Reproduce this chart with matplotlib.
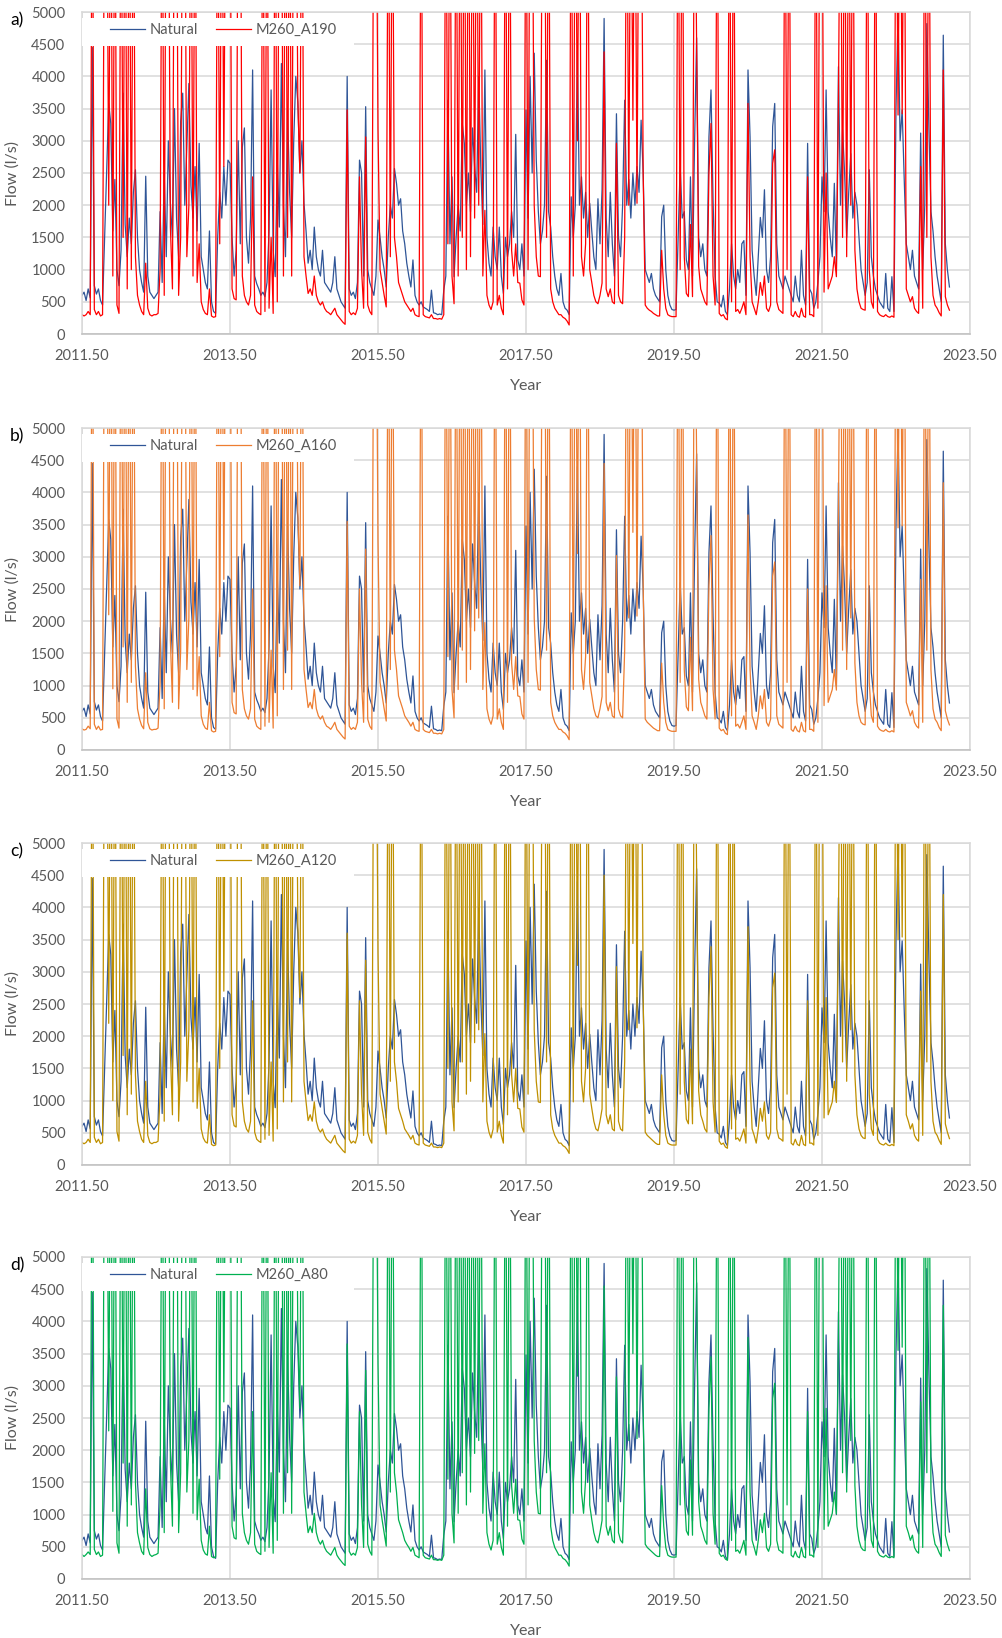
import numpy as np
import matplotlib.pyplot as plt
from matplotlib.patches import Rectangle

plt.rcParams['font.family'] = ['Lato', 'DejaVu Sans']

# Flow series, three values per month (about every 10 days), from July 2011.
# One row per hydrological year (July -> June). Values above 5000 are clipped by the axis.
natural = [
    # 2011/12
    600, 650, 520, 700, 560, 4450, 750, 620, 700, 520, 450, 1500, 2600, 3580, 3270, 1600, 2400, 1000,
    750, 1300, 3740, 1700, 1200, 1800, 1400, 2200, 2550, 1500, 1000, 800, 650, 2450, 900, 650, 600, 550,
    # 2012/13
    600, 650, 1900, 800, 2500, 1200, 3000, 2030, 1500, 3500, 1800, 1200, 3300, 3740, 2000, 2900, 3890, 2300,
    1800, 2600, 1600, 2960, 1200, 1000, 800, 700, 1600, 500, 350, 320, 1500, 2200, 1800, 2600, 2000, 2700,
    # 2013/14
    2650, 1500, 900, 1300, 3000, 1400, 2900, 3200, 1500, 1100, 1800, 4100, 900, 780, 700, 600, 650, 580,
    800, 1600, 3790, 1300, 890, 2700, 1660, 4200, 2000, 1200, 3480, 2200, 1500, 3000, 4000, 3600, 2500, 3000,
    # 2014/15
    2030, 1600, 1100, 1300, 1000, 1660, 1200, 1000, 900, 1300, 800, 750, 700, 650, 800, 1200, 700, 600,
    500, 450, 400, 4000, 700, 600, 650, 550, 800, 2700, 2500, 900, 3530, 1000, 800, 700, 600, 900,
    # 2015/16
    1770, 1500, 1200, 1000, 730, 1500, 2000, 1800, 2570, 2340, 2000, 2100, 1600, 1400, 1100, 900, 730, 1150,
    600, 500, 450, 500, 420, 400, 380, 350, 680, 330, 320, 300, 310, 300, 680, 900, 3630, 1400,
    # 2016/17
    2440, 890, 1500, 2000, 1600, 3270, 2960, 2000, 2500, 1900, 3200, 2600, 2200, 4000, 2600, 1700, 4100, 1500,
    1100, 900, 1660, 1200, 1000, 1660, 900, 630, 1500, 1200, 1400, 1900, 1500, 3100, 1150, 1000, 1400, 900,
    # 2017/18
    3480, 1800, 4000, 2500, 4360, 2700, 1900, 1400, 1600, 2000, 4250, 1900, 1660, 1200, 900, 700, 600, 940,
    500, 400, 370, 300, 2130, 1500, 2000, 4400, 2000, 2440, 1800, 2200, 1500, 2030, 1600, 1200, 1000, 2100,
    # 2018/19
    1400, 2240, 4900, 1800, 1200, 2200, 1400, 900, 3420, 1500, 1200, 2000, 3630, 2000, 2400, 1800, 2500, 2000,
    2600, 2200, 3320, 2500, 1000, 900, 800, 940, 700, 600, 550, 500, 1820, 2000, 1000, 600, 450, 380,
    # 2019/20
    370, 380, 1500, 2600, 1800, 1900, 1150, 1000, 2440, 900, 2960, 4600, 1500, 1200, 1400, 1000, 900, 3060,
    3790, 2080, 900, 500, 480, 420, 600, 350, 300, 700, 1400, 900, 700, 1000, 800, 1400, 1450, 600,
    # 2020/21
    4100, 3060, 1300, 900, 600, 1200, 1810, 1500, 2240, 1000, 800, 1200, 3220, 3580, 1400, 900, 800, 700,
    900, 800, 700, 600, 500, 900, 600, 500, 1300, 600, 450, 2960, 700, 630, 400, 500, 800, 1200,
    # 2021/22
    2440, 1900, 3790, 1900, 1500, 1200, 2340, 1000, 4150, 2000, 3170, 2500, 1500, 2200, 2800, 1800, 2200, 2000,
    1500, 1000, 800, 600, 800, 2550, 1200, 900, 700, 600, 500, 450, 400, 940, 400, 350, 890, 350,
    # 2022/23 (to March)
    3500, 4980, 3000, 3480, 2400, 1400, 1200, 1000, 1300, 900, 800, 700, 3120, 1000, 2000, 4820, 3200, 1900,
    1600, 1200, 900, 700, 500, 4640, 1400, 1000, 730,
]

m260_a190 = [
    300, 280, 300, 350, 300, 8000, 380, 300, 350, 280, 300, 8000, 8000, 2000, 8000, 900, 8000, 450,
    320, 8000, 1500, 8000, 700, 8000, 1000, 8000, 1200, 600, 450, 350, 300, 1100, 400, 300, 280, 300,
    300, 320, 1000, 8000, 600, 8000, 8000, 1660, 700, 8000, 8000, 600, 1500, 8000, 8000, 1200, 2000, 8000,
    900, 8000, 800, 1400, 500, 380, 320, 300, 700, 280, 260, 270, 8000, 1400, 8000, 2600, 8000, 8000,
    8000, 700, 550, 530, 8000, 8000, 900, 600, 500, 450, 600, 2440, 450, 350, 320, 300, 8000, 350,
    8000, 400, 1500, 320, 8000, 500, 8000, 8000, 900, 8000, 1500, 8000, 900, 8000, 8000, 3630, 2500, 8000,
    1200, 900, 630, 700, 600, 900, 600, 500, 450, 500, 400, 350, 330, 300, 350, 400, 300, 260,
    220, 180, 150, 3480, 350, 300, 330, 300, 400, 2440, 1000, 400, 3060, 450, 350, 300, 8000, 8000,
    3170, 1000, 800, 600, 420, 8000, 1200, 8000, 1500, 1200, 800, 700, 600, 500, 450, 400, 350, 400,
    300, 280, 270, 8000, 300, 270, 260, 250, 300, 240, 240, 230, 240, 230, 300, 8000, 1400, 8000,
    900, 470, 8000, 900, 8000, 1500, 8000, 1000, 8000, 1200, 8000, 1800, 8000, 2000, 8000, 900, 1920, 600,
    450, 380, 500, 8000, 450, 600, 400, 300, 8000, 700, 8000, 1300, 900, 1400, 800, 790, 530, 450,
    8000, 1000, 8000, 8000, 2000, 1200, 900, 890, 8000, 8000, 1500, 8000, 700, 500, 400, 350, 300, 300,
    260, 240, 200, 140, 8000, 900, 8000, 3000, 8000, 1200, 900, 1400, 8000, 1000, 800, 600, 500, 470,
    600, 790, 4380, 700, 580, 700, 500, 470, 2960, 600, 500, 470, 1500, 8000, 2000, 8000, 3320, 8000,
    2030, 8000, 8000, 2500, 450, 400, 370, 350, 320, 300, 280, 280, 1300, 700, 400, 300, 280, 270,
    270, 270, 8000, 1000, 8000, 1200, 630, 580, 1700, 580, 8000, 4500, 1050, 700, 600, 500, 450, 2500,
    3270, 900, 450, 8000, 320, 280, 300, 240, 220, 8000, 500, 8000, 350, 380, 320, 400, 500, 300,
    3580, 1200, 500, 400, 300, 500, 800, 600, 900, 400, 350, 450, 2650, 2860, 500, 380, 350, 320,
    8000, 1000, 8000, 300, 270, 350, 280, 260, 400, 280, 260, 2440, 300, 300, 270, 8000, 400, 8000,
    8000, 650, 2500, 700, 800, 900, 1200, 890, 3630, 8000, 1500, 8000, 1200, 8000, 2000, 8000, 1300, 700,
    500, 400, 380, 370, 8000, 1000, 500, 400, 8000, 350, 300, 280, 270, 300, 270, 260, 280, 260,
    8000, 3400, 8000, 3420, 8000, 700, 600, 500, 580, 400, 350, 320, 2600, 400, 8000, 1500, 8000, 1200,
    600, 450, 400, 330, 280, 4100, 580, 450, 370,
]

m260_a160 = [
    330, 310, 320, 370, 330, 8000, 400, 320, 370, 310, 320, 8000, 8000, 2100, 8000, 950, 8000, 480,
    340, 8000, 1600, 8000, 740, 8000, 1050, 8000, 1300, 640, 480, 380, 330, 1200, 430, 330, 310, 320,
    320, 340, 1050, 8000, 640, 8000, 8000, 1700, 740, 8000, 8000, 640, 1550, 8000, 8000, 1250, 2050, 8000,
    940, 8000, 840, 1450, 530, 400, 340, 320, 740, 300, 280, 290, 8000, 1450, 8000, 2650, 8000, 8000,
    8000, 740, 580, 560, 8000, 8000, 940, 640, 530, 480, 640, 2500, 480, 370, 340, 320, 8000, 370,
    8000, 430, 1550, 340, 8000, 530, 8000, 8000, 940, 8000, 1550, 8000, 940, 8000, 8000, 3700, 2550, 8000,
    1250, 940, 660, 740, 640, 940, 640, 530, 480, 530, 430, 370, 350, 320, 370, 430, 320, 280,
    240, 200, 170, 3550, 370, 320, 350, 320, 430, 2500, 1050, 430, 3120, 480, 370, 320, 8000, 8000,
    3250, 1050, 840, 640, 450, 8000, 1250, 8000, 1550, 1250, 840, 740, 640, 530, 480, 430, 370, 430,
    320, 300, 290, 8000, 320, 290, 280, 270, 320, 260, 260, 250, 260, 250, 320, 8000, 1450, 8000,
    940, 500, 8000, 940, 8000, 1550, 8000, 1050, 8000, 1250, 8000, 1850, 8000, 2050, 8000, 940, 1980, 640,
    480, 400, 530, 8000, 480, 640, 430, 320, 8000, 740, 8000, 1350, 940, 1450, 840, 830, 560, 480,
    8000, 1050, 8000, 8000, 2050, 1250, 940, 930, 8000, 8000, 1550, 8000, 740, 530, 430, 370, 320, 320,
    280, 260, 220, 160, 8000, 940, 8000, 3050, 8000, 1250, 940, 1450, 8000, 1050, 840, 640, 530, 500,
    640, 830, 4450, 740, 610, 740, 530, 500, 3020, 640, 530, 500, 1550, 8000, 2050, 8000, 3380, 8000,
    2080, 8000, 8000, 2550, 480, 430, 400, 370, 340, 320, 300, 300, 1350, 740, 430, 320, 300, 290,
    290, 290, 8000, 1050, 8000, 1250, 670, 610, 1750, 610, 8000, 4550, 1100, 740, 640, 530, 480, 2550,
    3330, 940, 480, 8000, 340, 300, 320, 260, 240, 8000, 530, 8000, 370, 400, 340, 430, 530, 320,
    3650, 1250, 530, 430, 320, 530, 840, 640, 940, 430, 370, 480, 2700, 2920, 530, 400, 370, 340,
    8000, 1050, 8000, 320, 290, 370, 300, 280, 430, 300, 280, 2500, 320, 320, 290, 8000, 430, 8000,
    8000, 690, 2550, 740, 840, 940, 1250, 930, 3700, 8000, 1550, 8000, 1250, 8000, 2050, 8000, 1350, 740,
    530, 430, 400, 390, 8000, 1050, 530, 430, 8000, 370, 320, 300, 290, 320, 290, 280, 300, 280,
    8000, 3450, 8000, 3480, 8000, 740, 640, 530, 610, 430, 370, 340, 2650, 430, 8000, 1550, 8000, 1250,
    640, 480, 430, 350, 300, 4150, 610, 480, 390,
]

m260_a120 = [
    350, 330, 350, 400, 350, 8000, 430, 350, 400, 330, 350, 8000, 8000, 2200, 8000, 1000, 8000, 520,
    370, 8000, 1700, 8000, 780, 8000, 1100, 8000, 1400, 680, 520, 400, 350, 1300, 460, 350, 330, 350,
    350, 370, 1100, 8000, 680, 8000, 8000, 1750, 780, 8000, 8000, 680, 1600, 8000, 8000, 1300, 2100, 8000,
    980, 8000, 880, 1500, 560, 420, 360, 340, 780, 320, 300, 310, 8000, 1500, 8000, 2700, 8000, 8000,
    8000, 780, 610, 590, 8000, 8000, 980, 680, 560, 510, 680, 2550, 510, 400, 370, 350, 8000, 400,
    8000, 460, 1600, 370, 8000, 560, 8000, 8000, 980, 8000, 1600, 8000, 980, 8000, 8000, 3750, 2600, 8000,
    1300, 980, 690, 780, 680, 980, 680, 560, 510, 560, 460, 400, 370, 340, 400, 460, 340, 300,
    260, 220, 190, 3600, 400, 340, 370, 340, 460, 2550, 1100, 460, 3180, 510, 400, 340, 8000, 8000,
    3300, 1100, 880, 680, 480, 8000, 1300, 8000, 1600, 1300, 880, 780, 680, 560, 510, 460, 400, 460,
    340, 320, 310, 8000, 340, 310, 300, 290, 340, 280, 280, 270, 280, 270, 340, 8000, 1500, 8000,
    980, 530, 8000, 980, 8000, 1600, 8000, 1100, 8000, 1300, 8000, 1900, 8000, 2100, 8000, 980, 2040, 680,
    510, 420, 560, 8000, 510, 680, 460, 340, 8000, 780, 8000, 1400, 980, 1500, 880, 870, 590, 510,
    8000, 1100, 8000, 8000, 2100, 1300, 980, 970, 8000, 8000, 1600, 8000, 780, 560, 460, 400, 340, 340,
    300, 280, 240, 180, 8000, 980, 8000, 3100, 8000, 1300, 980, 1500, 8000, 1100, 880, 680, 560, 530,
    680, 870, 4500, 780, 640, 780, 560, 530, 3080, 680, 560, 530, 1600, 8000, 2100, 8000, 3440, 8000,
    2130, 8000, 8000, 2600, 510, 460, 430, 400, 370, 340, 320, 320, 1400, 780, 460, 340, 320, 310,
    310, 310, 8000, 1100, 8000, 1300, 710, 640, 1800, 640, 8000, 4600, 1150, 780, 680, 560, 510, 2600,
    3390, 980, 510, 8000, 370, 320, 340, 280, 260, 8000, 560, 8000, 400, 420, 370, 460, 560, 340,
    3700, 1300, 560, 460, 340, 560, 880, 680, 980, 460, 400, 510, 2750, 2980, 560, 420, 400, 370,
    8000, 1100, 8000, 340, 310, 400, 320, 300, 460, 320, 300, 2550, 340, 340, 310, 8000, 460, 8000,
    8000, 730, 2600, 780, 880, 980, 1300, 970, 3750, 8000, 1600, 8000, 1300, 8000, 2100, 8000, 1400, 780,
    560, 460, 420, 410, 8000, 1100, 560, 460, 8000, 400, 340, 320, 310, 340, 310, 300, 320, 300,
    8000, 3500, 8000, 3540, 8000, 780, 680, 560, 640, 460, 400, 370, 2700, 460, 8000, 1600, 8000, 1300,
    680, 510, 460, 380, 320, 4200, 640, 510, 410,
]

m260_a80 = [
    380, 350, 380, 420, 380, 8000, 460, 380, 420, 350, 370, 8000, 8000, 2300, 8000, 1050, 8000, 560,
    400, 8000, 1800, 8000, 820, 8000, 1150, 8000, 1500, 720, 560, 430, 380, 1400, 490, 380, 350, 370,
    380, 400, 1150, 8000, 720, 8000, 8000, 1800, 820, 8000, 8000, 720, 1650, 8000, 8000, 1350, 2150, 8000,
    1020, 8000, 920, 1550, 600, 450, 390, 370, 820, 350, 330, 340, 8000, 1550, 8000, 2750, 8000, 8000,
    8000, 820, 640, 620, 8000, 8000, 1020, 720, 600, 540, 720, 2600, 540, 430, 400, 380, 8000, 430,
    8000, 490, 1650, 400, 8000, 600, 8000, 8000, 1020, 8000, 1650, 8000, 1020, 8000, 8000, 3800, 2650, 8000,
    1350, 1020, 720, 820, 720, 1020, 720, 600, 540, 600, 490, 430, 400, 370, 430, 490, 370, 320,
    280, 240, 210, 3650, 430, 370, 400, 370, 490, 2600, 1150, 490, 3240, 540, 430, 370, 8000, 8000,
    3350, 1150, 920, 720, 510, 8000, 1350, 8000, 1650, 1350, 920, 820, 720, 600, 540, 490, 430, 490,
    370, 350, 330, 8000, 370, 330, 320, 310, 370, 300, 300, 290, 300, 290, 370, 8000, 1550, 8000,
    1020, 560, 8000, 1020, 8000, 1650, 8000, 1150, 8000, 1350, 8000, 1950, 8000, 2150, 8000, 1020, 2100, 720,
    540, 450, 600, 8000, 540, 720, 490, 370, 8000, 820, 8000, 1450, 1020, 1550, 920, 910, 620, 540,
    8000, 1150, 8000, 8000, 2150, 1350, 1020, 1010, 8000, 8000, 1650, 8000, 820, 600, 490, 430, 370, 370,
    320, 300, 260, 200, 8000, 1020, 8000, 3150, 8000, 1350, 1020, 1550, 8000, 1150, 920, 720, 600, 560,
    720, 910, 4550, 820, 680, 820, 600, 560, 3140, 720, 600, 560, 1650, 8000, 2150, 8000, 3500, 8000,
    2180, 8000, 8000, 2650, 540, 490, 460, 430, 400, 370, 350, 350, 1450, 820, 490, 370, 350, 340,
    340, 340, 8000, 1150, 8000, 1350, 750, 680, 1850, 680, 8000, 4650, 1200, 820, 720, 600, 540, 2650,
    3450, 1020, 540, 8000, 400, 350, 370, 310, 290, 8000, 600, 8000, 430, 450, 400, 490, 600, 370,
    3750, 1350, 600, 490, 370, 600, 920, 720, 1020, 490, 430, 540, 2800, 3040, 600, 450, 430, 400,
    8000, 1150, 8000, 370, 340, 430, 350, 330, 490, 350, 330, 2600, 370, 370, 340, 8000, 490, 8000,
    8000, 770, 2650, 820, 920, 1020, 1350, 1010, 3800, 8000, 1650, 8000, 1350, 8000, 2150, 8000, 1450, 820,
    600, 490, 450, 440, 8000, 1150, 600, 490, 8000, 430, 370, 350, 340, 370, 340, 330, 350, 330,
    8000, 3550, 8000, 3600, 8000, 820, 720, 600, 680, 490, 430, 400, 2750, 490, 8000, 1650, 8000, 1350,
    720, 540, 490, 410, 350, 4250, 680, 540, 440,
]

years = 2011.5 + np.arange(len(natural)) / 36.0

panels = [
    ("a)", "M260_A190", m260_a190, "#FF0000"),
    ("b)", "M260_A160", m260_a160, "#ED7D31"),
    ("c)", "M260_A120", m260_a120, "#BF9000"),
    ("d)", "M260_A80", m260_a80, "#00B050"),
]

grey_txt = "#595959"
grid_col = "#D9D9D9"
W, H = 1002, 1638
tops = [12, 428, 843, 1257]   # pixel row of the 5000 line for each panel

fig = plt.figure(figsize=(W / 100, H / 100), dpi=100)

for (lab, name, serie, col), top in zip(panels, tops):
    ax = fig.add_axes([82 / W, 1 - (top + 322) / H, 888 / W, 322 / H])
    ax.plot(years, natural, color="#2F5597", lw=0.9, label="Natural", zorder=2)
    ax.plot(years, serie, color=col, lw=0.9, label=name, zorder=2.1)

    ax.set_xlim(2011.5, 2023.5)
    ax.set_ylim(0, 5000)
    ax.set_xticks(np.arange(2011.5, 2023.6, 2))
    ax.set_xticklabels(["%.2f" % t for t in np.arange(2011.5, 2023.6, 2)])
    ax.set_yticks(np.arange(0, 5001, 500))
    ax.tick_params(length=0, labelsize=10.5, labelcolor=grey_txt)
    ax.tick_params(axis="y", pad=12)
    ax.tick_params(axis="x", pad=11)
    ax.grid(True, color=grid_col, lw=1.1)
    ax.set_axisbelow(True)
    for s in ax.spines.values():
        s.set_color(grid_col)
        s.set_linewidth(1.1)
    ax.spines["bottom"].set_color("#BFBFBF")

    ax.set_xlabel("Year", fontsize=11.5, color=grey_txt, labelpad=11)
    ax.set_ylabel("Flow (l/s)", fontsize=11.5, color=grey_txt, labelpad=4)
    ax.yaxis.set_label_coords(-62 / 888, 0.5)

    # white strip behind the legend, like the spreadsheet chart
    ax.add_patch(Rectangle((0, 0.893), 0.306, 0.088, transform=ax.transAxes,
                           facecolor="white", edgecolor="none", zorder=3))
    leg = ax.legend(loc="center left", bbox_to_anchor=(28 / 888, 0.944), ncol=2,
                    frameon=False, fontsize=10.5, handlelength=2.4, handletextpad=0.35,
                    columnspacing=1.2, borderpad=0, borderaxespad=0)
    for t in leg.get_texts():
        t.set_color(grey_txt)

    fig.text(10 / W, 1 - (top + 8) / H, lab, fontsize=12.5, color="black", va="center", ha="left")

fig.savefig("out.png", dpi=100)
